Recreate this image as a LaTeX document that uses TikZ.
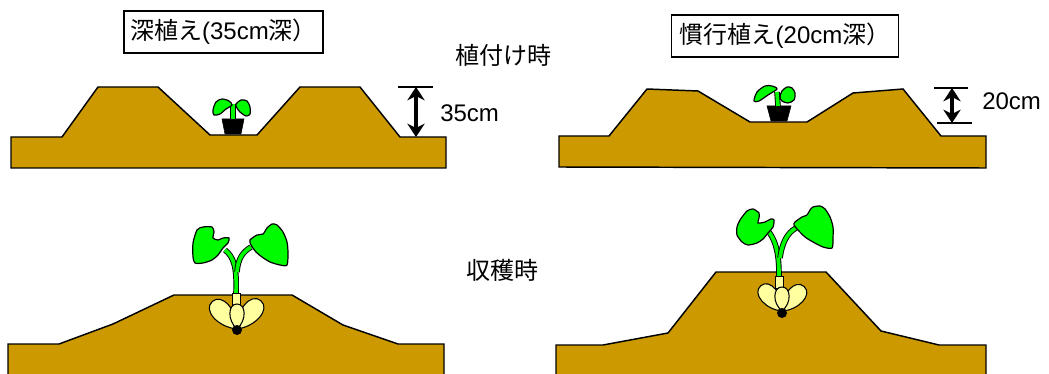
\documentclass[tikz,border=0pt]{standalone}
\usepackage{fontspec}
\setmainfont{Liberation Sans}
\newfontfamily\jpfont{Noto Sans CJK JP}
\usetikzlibrary{arrows.meta}
\definecolor{soil}{RGB}{204,153,0}
\definecolor{leafgreen}{RGB}{0,250,0}
\definecolor{tuberyellow}{RGB}{255,255,160}

\begin{document}
\begin{tikzpicture}[x=0.75pt,y=0.75pt,yscale=-1,xscale=1,
    ridge/.style={fill=soil,draw=black,line width=1.1pt},
    leaf/.style={fill=leafgreen,draw=black,line width=0.9pt},
    stalk/.style={draw=black,double=leafgreen,double distance=2.8pt,line width=0.7pt},
    palestalk/.style={fill=tuberyellow,draw=black,line width=0.7pt},
    petal/.style={fill=tuberyellow,draw=black,line width=0.8pt},
    pot/.style={fill=black,draw=black},
    boxlabel/.style={draw,line width=1.1pt,inner sep=0pt,minimum height=31.5pt,font=\fontsize{18}{20}\selectfont},
    txt/.style={inner sep=0.75pt,font=\fontsize{18}{20}\selectfont},
    tick/.style={line width=1pt},
    dimarrow/.style={line width=3pt,{Stealth[length=10pt,width=13pt]}-{Stealth[length=10pt,width=13pt]}}]
\useasboundingbox (0,0) rectangle (1049,374);

% ridges at planting
\draw[ridge] (11,137) -- (62,137) -- (98,87) -- (158,87) -- (210,135) -- (257,135) -- (300,87) -- (360,87) -- (400,137) -- (446,137) -- (446,168) -- (11,168) -- cycle;
\draw[ridge] (559,136) -- (609,136) -- (647,89) -- (698,91) -- (750,122) -- (807,122) -- (853,93) -- (903,89) -- (941,136) -- (986,136) -- (986,168) -- (559,167) -- cycle;

% ridges at harvest
\draw[ridge] (8,344) -- (59,344) -- (113,324) -- (174,295) -- (292,295) -- (343,325) -- (398,344) -- (444,344) -- (444,380) -- (8,380) -- cycle;
\draw[ridge] (556,345) -- (603,345) -- (668,333) -- (716,272) -- (826,272) -- (881,331) -- (939,345) -- (986,345) -- (986,380) -- (556,380) -- cycle;

% seedlings in pots
\draw[pot] (222,119) -- (244,119) -- (241,134) -- (225,134) -- cycle;
\draw[stalk] (233,119) -- (233,104);
\draw[leaf] plot[smooth cycle,tension=0.5] coordinates {(213,110) (216,102) (222,99) (229,101) (232,105) (226,109) (220,114) (214,115)};
\draw[leaf] plot[smooth cycle,tension=0.5] coordinates {(236,104) (241,100) (247,101) (250,107) (250,114) (246,116) (240,112) (237,108)};

\draw[pot] (767,106) -- (791,106) -- (787,121) -- (771,121) -- cycle;
\draw[stalk] (778,106) -- (777,92);
\draw[leaf] plot[smooth cycle,tension=0.5] coordinates {(754,101) (757,92) (765,86) (772,86) (777,89) (768,95) (759,101)};
\draw[leaf] plot[smooth cycle,tension=0.5] coordinates {(780,97) (782,91) (787,87) (792,88) (795,93) (794,100) (788,103) (782,101)};

% grown plant, deep planting
\draw[petal,shift={(237,329)},rotate=-42] (0,0) .. controls (13,-14) and (13,-37) .. (0,-37) .. controls (-13,-37) and (-13,-14) .. (0,0);
\draw[petal,shift={(237,329)},rotate=40] (0,0) .. controls (13,-14) and (13,-37) .. (0,-37) .. controls (-13,-37) and (-13,-14) .. (0,0);
\draw[stalk] (225,250) .. controls (234,257) and (237,268) .. (236,293);
\draw[stalk] (251,247) .. controls (243,252) and (238,258) .. (237,272);
\draw[palestalk] (232,293) rectangle (240,307);
\draw[petal,shift={(237,329)}] (0,0) .. controls (10,-9) and (9,-25) .. (0,-25) .. controls (-9,-25) and (-10,-9) .. (0,0);
\fill (237,330) circle (5);
\draw[leaf] plot[smooth cycle,tension=0.45] coordinates {(197,230) (203,227) (212,227) (214,232) (213,238) (218,240) (223,238) (229,238) (228,243) (223,248) (218,255) (212,260) (203,263) (195,263) (193,257) (193,243)};
\draw[leaf] plot[smooth cycle,tension=0.45] coordinates {(250,240) (257,235) (263,234) (267,228) (272,224) (277,225) (283,232) (287,242) (288,253) (287,265) (280,265) (270,262) (262,257) (256,252) (251,245)};

% grown plant, usual planting
\draw[petal,shift={(782,311)},rotate=-40] (0,0) .. controls (12,-12) and (12,-33) .. (0,-33) .. controls (-12,-33) and (-12,-12) .. (0,0);
\draw[petal,shift={(782,311)},rotate=42] (0,0) .. controls (12,-12) and (12,-33) .. (0,-33) .. controls (-12,-33) and (-12,-12) .. (0,0);
\draw[stalk] (769,232) .. controls (777,243) and (779,257) .. (779,276);
\draw[stalk] (796,228) .. controls (787,233) and (782,243) .. (780,258);
\draw[palestalk] (775,276) rectangle (783,288);
\draw[petal,shift={(782,311)}] (0,0) .. controls (10,-8) and (9,-24) .. (0,-24) .. controls (-9,-24) and (-10,-8) .. (0,0);
\fill (782,313) circle (5);
\draw[leaf] plot[smooth cycle,tension=0.45] coordinates {(740,220) (747,211) (753,209) (759,213) (759,218) (758,223) (765,222) (771,219) (774,220) (773,227) (768,233) (763,239) (757,243) (748,245) (742,242) (737,235) (737,227)};
\draw[leaf] plot[smooth cycle,tension=0.45] coordinates {(795,222) (802,217) (807,215) (810,210) (813,207) (820,206) (825,209) (830,217) (833,227) (833,238) (832,248) (823,247) (813,242) (805,237) (798,230) (794,225)};

% depth marks
\coordinate (deepTop) at (416,87);
\coordinate (deepBot) at (416,137);
\draw[tick] (398,87) -- (433,87);
\draw[dimarrow] (deepTop) -- (deepBot);
\node[txt,anchor=west] (deepDepth) at (439,113) {35cm};

\coordinate (usualTop) at (952,88);
\coordinate (usualBot) at (952,123);
\draw[tick] (934,88) -- (968,88);
\draw[tick] (937,123) -- (972,123);
\draw[dimarrow] (usualTop) -- (usualBot);
\node[txt,anchor=west] (usualDepth) at (981,101) {20cm};

% titles
\node[boxlabel,minimum width=149pt] (deepBox) at (223.5,32) {{\jpfont 深植え}(35cm{\jpfont 深）}};
\node[boxlabel,minimum width=170pt] (usualBox) at (785,36) {{\jpfont 慣行植え}(20cm{\jpfont 深）}};
\node[txt] (plantTime) at (503,55) {\jpfont 植付け時};
\node[txt] (harvestTime) at (502,270) {\jpfont 収穫時};
\end{tikzpicture}
\end{document}
